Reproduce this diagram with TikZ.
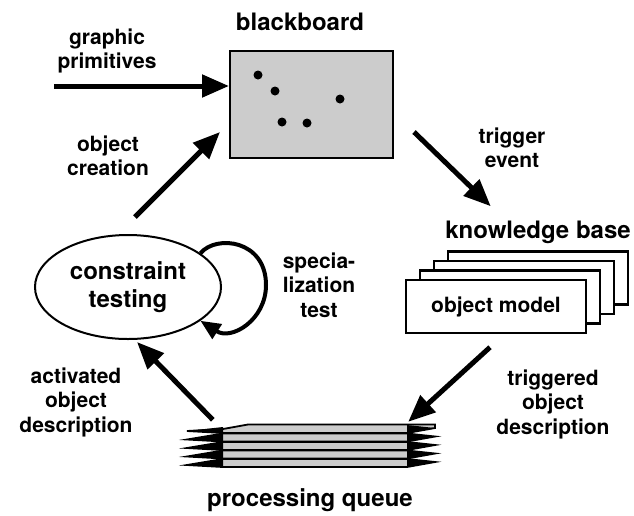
\documentclass[tikz,border=0pt]{standalone}
\usepackage{fontspec}
\setmainfont{TeX Gyre Heros}
\usetikzlibrary{arrows.meta,shapes.geometric,positioning,calc}
\definecolor{boardgray}{gray}{0.8}

\begin{document}
\begin{tikzpicture}[
  x=1pt, y=-1pt,
  board/.style={rectangle, draw=black, line width=2pt, fill=boardgray,
                minimum width=163pt, minimum height=107pt, inner sep=0pt},
  kbbox/.style={rectangle, draw=black, line width=2.5pt, fill=white,
                minimum width=180pt, minimum height=53pt, inner sep=0pt},
  proc/.style={ellipse, draw=black, line width=2pt, minimum width=186pt,
               minimum height=104pt, inner sep=0pt, align=center,
               font=\bfseries\fontsize{24}{28}\selectfont},
  layer/.style={draw=black, line width=1.8pt, fill=boardgray, line join=miter},
  bigarr/.style={-{Triangle[length=27pt, width=22pt]}, line width=5pt},
  looparr/.style={-{Triangle[length=20pt, width=17pt]}, line width=4pt},
  title/.style={font=\bfseries\fontsize{24}{28}\selectfont, align=center},
  label/.style={font=\bfseries\fontsize{21}{24.5}\selectfont, align=center}
]
\useasboundingbox (0,0) rectangle (634,515);

\node[board] (bb) at (311.5,104.5) {};
\foreach \x/\y in {258/75, 275/91, 282/122, 307/123, 340/99}
  \fill (\x,\y) circle (4.5pt);

\node[kbbox] (kb4) at (538,278) {};
\node[kbbox] (kb3) at (524,287.5) {};
\node[kbbox] (kb2) at (510,297) {};
\node[kbbox, font=\bfseries\fontsize{21}{24.5}\selectfont] (kb1) at (496,306.5) {object model};

\node[inner sep=0pt, minimum width=248pt, minimum height=44pt] (queue) at (311,446) {};
\foreach \y in {463,454.5,446,437.5} {
  \draw[layer] (187,\y+2) -- (223,\y-4) -- (407,\y-4) -- (435,\y-1)
    -- (407,\y+4) -- (223,\y+4) -- cycle;
  \fill (187,\y+2) -- (223,\y-4) -- (223,\y+4) -- cycle;
  \fill (435,\y-1) -- (407,\y-4) -- (407,\y+4) -- cycle;
}
\draw[layer] (187,431) -- (223,429) -- (248,424.5) -- (435,424.5) -- (435,428)
  -- (407,433) -- (223,433) -- cycle;
\fill (187,431) -- (223,427) -- (223,433) -- cycle;
\fill (435,428) -- (407,425) -- (407,433) -- cycle;

\node[proc] (ct) at (128,287) {constraint\\testing};

\coordinate (gpin) at (54,86);
\draw[bigarr] (gpin) -- (gpin -| bb.west);
\draw[bigarr] ($(ct.north)+(7,-17)$) -- ($(bb.south west)+(-9,-27)$);
\draw[bigarr] ($(bb.south east)+(20,-27)$) -- ($(kb4.north west)+(44,-44)$);
\draw[bigarr] ($(kb1.south)+(-6,13)$) -- ($(queue.north east)+(-27,-2)$);
\draw[bigarr] ($(queue.north west)+(26,-4)$) -- ($(ct.south)+(9,2)$);
\draw[looparr] (ct.25) .. controls +(16,-19) and +(0,-45) .. ($(ct.east)+(44,-2)$)
  .. controls +(0,35) and +(31,20) .. (ct.-25);

\node[title] (bbtitle) at (300,22) {blackboard};
\node[title] (kbtitle) at (538,232) {knowledge base};
\node[title] (pqtitle) at (310,500) {processing queue};
\node[label] (gplabel) at (107,51) {graphic\\primitives};
\node[label] (oclabel) at (108,156) {object\\creation};
\node[label] (telabel) at (512,148) {trigger\\event};
\node[label] (splabel) at (319,285) {specia-\\lization\\test};
\node[label] (aclabel) at (76,402) {activated\\object\\description};
\node[label] (trlabel) at (553,404) {triggered\\object\\description};

\end{tikzpicture}
\end{document}
